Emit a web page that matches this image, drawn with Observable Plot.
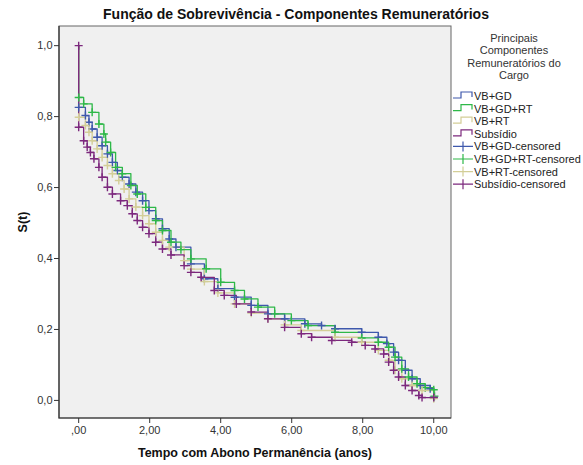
<!DOCTYPE html>
<html><head><meta charset="utf-8">
<script src="https://cdn.jsdelivr.net/npm/d3@7"></script>
<script src="https://cdn.jsdelivr.net/npm/@observablehq/plot@0.6"></script>
<style>body{margin:0;background:#fff;} svg{display:block;}</style>
</head><body>
<div id="chart"></div>
<script>
const titleText = "Função de Sobrevivência - Componentes Remuneratórios";
const xTitle = "Tempo com Abono Permanência (anos)";
const yTitle = "S(t)";
const legendTitle = ["Principais", "Componentes", "Remuneratórios do", "Cargo"];
const seriesNames = ["VB+GD", "VB+GD+RT", "VB+RT", "Subsídio"];
const seriesColors = ["#3E58AC", "#2EB848", "#D3CE97", "#7C287D"];
const xTicks = [0, 2, 4, 6, 8, 10];
const yTicks = [0, 0.2, 0.4, 0.6, 0.8, 1.0];

// VB+GD
const tVBGD = [0,0,0.19,0.29,0.38,0.52,0.66,0.81,0.95,1.09,1.23,1.42,1.61,1.80,1.98,2.17,2.36,2.55,2.74,3.16,3.54,3.92,4.39,4.86,5.33,5.80,6.37,6.84,7.22,7.97,8.44,8.68,8.87,9.01,9.20,9.39,9.62,9.90,10.0];
const sVBGD = [1.0,0.826,0.803,0.784,0.765,0.742,0.718,0.695,0.671,0.648,0.629,0.610,0.587,0.563,0.535,0.512,0.484,0.455,0.432,0.385,0.343,0.315,0.291,0.268,0.244,0.230,0.216,0.211,0.202,0.192,0.178,0.160,0.136,0.113,0.085,0.061,0.042,0.033,0.009];
// VB+GD+RT
const tVBGDRT = [0,0,0.14,0.38,0.57,0.71,0.76,0.90,1.04,1.23,1.47,1.65,1.89,2.17,2.36,2.60,2.88,3.16,3.59,4.00,4.39,4.67,5.05,5.52,5.99,6.46,7.22,7.97,8.44,8.73,8.91,9.10,9.29,9.53,9.76,10.0,10.02];
const sVBGDRT = [1.0,0.854,0.836,0.812,0.779,0.751,0.728,0.699,0.657,0.639,0.606,0.582,0.544,0.507,0.479,0.446,0.425,0.399,0.371,0.333,0.310,0.286,0.263,0.244,0.225,0.211,0.192,0.176,0.164,0.150,0.122,0.089,0.066,0.047,0.036,0.030,0.012];
// VB+RT
const tVBRT = [0,0,0.19,0.29,0.38,0.52,0.66,0.81,0.95,1.13,1.28,1.42,1.61,1.80,1.98,2.17,2.36,2.55,2.97,3.16,3.54,3.92,4.39,4.86,5.33,5.80,6.27,7.22,7.97,8.44,8.73,8.91,9.10,9.39,9.67,10.0];
const sVBRT = [1.0,0.798,0.775,0.756,0.732,0.709,0.685,0.662,0.639,0.620,0.596,0.568,0.545,0.521,0.498,0.474,0.451,0.432,0.394,0.370,0.335,0.303,0.272,0.246,0.230,0.213,0.197,0.178,0.164,0.141,0.113,0.085,0.061,0.042,0.028,0.005];
// Subsídio
const tSub = [0,0,0.14,0.24,0.33,0.43,0.57,0.66,0.81,0.95,1.18,1.37,1.51,1.65,1.80,1.98,2.17,2.36,2.60,2.97,3.16,3.45,3.82,4.10,4.44,4.86,5.33,5.80,6.27,6.56,7.13,7.69,8.07,8.35,8.59,8.73,8.87,9.01,9.20,9.39,9.58,9.67,10.0];
const sSub = [1.0,0.770,0.732,0.714,0.699,0.681,0.657,0.629,0.601,0.582,0.563,0.549,0.526,0.507,0.488,0.470,0.446,0.427,0.410,0.380,0.361,0.347,0.310,0.296,0.272,0.249,0.230,0.206,0.188,0.178,0.169,0.164,0.155,0.145,0.131,0.108,0.085,0.066,0.042,0.028,0.014,0.008,0.008];

const seriesT = [tVBGD, tVBGDRT, tVBRT, tSub];
const seriesS = [sVBGD, sVBGDRT, sVBRT, sSub];

const rows = [];
seriesNames.forEach((name, k) => {
  seriesT[k].forEach((t, i) => rows.push({series: name, t, s: seriesS[k][i], i}));
});
// censored marks on step points (Subsídio also censored at t=0)
const censored = rows.filter(d => d.i > 0 || d.series === "Subsídio");

const plusSym = {
  draw(ctx, size) {
    const r = Math.sqrt(size / Math.PI);
    ctx.moveTo(-r, 0); ctx.lineTo(r, 0);
    ctx.moveTo(0, -r); ctx.lineTo(0, r);
  }
};

const fmtX = v => v === 0 ? ",00" : v.toFixed(2).replace(".", ",");
const fmtY = v => v.toFixed(1).replace(".", ",");

const xDomain = [-0.54, 10.5];
const yDomain = [-0.051, 1.054];
const W = 583, H = 465;
const plot = Plot.plot({
  width: W, height: H,
  marginLeft: 59, marginRight: 132, marginTop: 26, marginBottom: 47,
  style: {background: "transparent", fontFamily: "'Liberation Sans', Arial, sans-serif", fontSize: "11px", color: "#333"},
  x: {domain: xDomain},
  y: {domain: yDomain},
  color: {domain: seriesNames, range: seriesColors},
  marks: [
    Plot.line(rows, {x: "t", y: "s", z: "series", stroke: "series", curve: "step-after", strokeWidth: 1.3}),
    Plot.dot(censored, {x: "t", y: "s", stroke: "series", fill: "none", symbol: plusSym, r: 4, strokeWidth: 1.4}),
    Plot.axisX({ticks: xTicks, tickFormat: fmtX, tickSize: 5, tickPadding: 3, label: null, stroke: "#333", fill: "#333"}),
    Plot.axisY({ticks: yTicks, tickFormat: fmtY, tickSize: 5, tickPadding: 2, label: null, stroke: "#333", fill: "#333"})
  ]
});

const svg = d3.select(plot);
const sx = plot.scale("x"), sy = plot.scale("y");
const x0 = sx.apply(xDomain[0]), x1 = sx.apply(xDomain[1]);
const y0 = sy.apply(yDomain[1]), y1 = sy.apply(yDomain[0]);
// plot background + frame, inserted beneath marks
svg.insert("rect", ":first-child")
  .attr("x", x0).attr("y", y0).attr("width", x1 - x0).attr("height", y1 - y0)
  .attr("fill", "#f0f0f0").attr("stroke", "#666").attr("stroke-width", 1);
svg.append("path").attr("d", `M${x0},${y0}V${y1}H${x1}`).attr("fill", "none").attr("stroke", "#333").attr("stroke-width", 1.2);

const font = "'Liberation Sans', Arial, sans-serif";
svg.append("text").attr("x", 296).attr("y", 19).attr("text-anchor", "middle")
  .attr("font-family", font).attr("font-size", 14).attr("font-weight", "bold").attr("fill", "#111").text(titleText);
svg.append("text").attr("x", 255).attr("y", 457).attr("text-anchor", "middle")
  .attr("font-family", font).attr("font-size", 12.5).attr("font-weight", "bold").attr("fill", "#111").text(xTitle);
svg.append("text").attr("transform", "translate(27,222) rotate(-90)").attr("text-anchor", "middle")
  .attr("font-family", font).attr("font-size", 12.5).attr("font-weight", "bold").attr("fill", "#111").text(yTitle);

const lg = svg.append("g").attr("font-family", font).attr("font-size", 11).attr("fill", "#222");
legendTitle.forEach((line, i) => {
  lg.append("text").attr("x", 514).attr("y", 42 + i * 12.4).attr("text-anchor", "middle").attr("fill", "#333").text(line);
});
const items = [];
seriesNames.forEach((n, k) => items.push({label: n, color: seriesColors[k], kind: "line"}));
seriesNames.forEach((n, k) => items.push({label: n + "-censored", color: seriesColors[k], kind: "cens"}));
items.forEach((it, i) => {
  const y = 96 + i * 12.6;
  if (it.kind === "line") {
    lg.append("path").attr("d", `M453,${y + 2}H461V${y - 4}H472V${y + 1}`)
      .attr("fill", "none").attr("stroke", it.color).attr("stroke-width", 1.2);
  } else {
    lg.append("path").attr("d", `M453,${y}H473M463,${y - 5}V${y + 5}`)
      .attr("fill", "none").attr("stroke", it.color).attr("stroke-width", 1.2);
  }
  lg.append("text").attr("x", 474).attr("y", y + 4).attr("text-anchor", "start").text(it.label);
});

document.getElementById("chart").appendChild(plot);
</script>
</body></html>
